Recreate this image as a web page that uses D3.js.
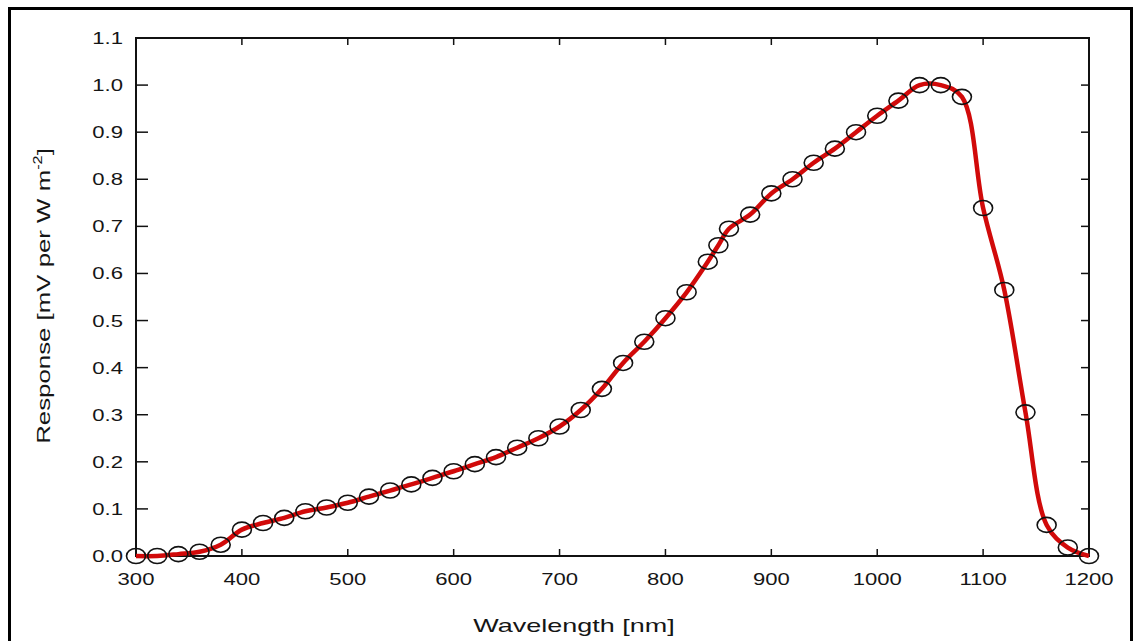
<!DOCTYPE html>
<html>
<head>
    <meta charset="utf-8">
    <title>Spectral Response</title>
    <script src="https://cdn.jsdelivr.net/npm/d3@7"></script>
    <style>
        body {
            margin: 0;
            background: #fff;
        }

        text {
            font-family: "Liberation Sans", Arial, sans-serif;
            fill: #151515;
        }

        .frame {
            fill: none;
            stroke: #000;
            stroke-width: 3px;
        }

        .box {
            fill: none;
            stroke: #111;
            stroke-width: 2px;
        }

        .tick {
            stroke: #111;
            stroke-width: 1.5px;
        }

        .curve {
            fill: none;
            stroke: #d10a0a;
            stroke-width: 4.5px;
        }

        .marker {
            fill: none;
            stroke: #111;
            stroke-width: 1.6px;
        }
    </style>
</head>

<body>

<script type="text/javascript">
    // values
    var wavelength = [300, 320, 340, 360, 380, 400, 420, 440, 460, 480, 500, 520, 540, 560, 580,
        600, 620, 640, 660, 680, 700, 720, 740, 760, 780, 800, 820, 840, 850, 860, 880,
        900, 920, 940, 960, 980, 1000, 1020, 1040, 1060, 1080, 1100, 1120, 1140, 1160, 1180, 1200];
    var response = [0.0, 0.0, 0.004, 0.009, 0.024, 0.056, 0.07, 0.081, 0.095, 0.103, 0.113, 0.126, 0.139, 0.152, 0.166,
        0.18, 0.195, 0.21, 0.23, 0.25, 0.275, 0.31, 0.355, 0.41, 0.455, 0.505, 0.56, 0.625, 0.66, 0.695, 0.725,
        0.77, 0.80, 0.835, 0.865, 0.90, 0.935, 0.967, 1.0, 1.0, 0.975, 0.739, 0.565, 0.305, 0.066, 0.018, 0.0];
    var xTicks = [300, 400, 500, 600, 700, 800, 900, 1000, 1100, 1200];
    var yTicks = [0.0, 0.1, 0.2, 0.3, 0.4, 0.5, 0.6, 0.7, 0.8, 0.9, 1.0, 1.1];

    var width = 1135,
        height = 641,
        plotLeft = 136, plotRight = 1089, plotTop = 38, plotBottom = 556,
        stretch = 1.38; // glyphs in the picture are wide

    var x = d3.scaleLinear().domain([300, 1200]).range([plotLeft, plotRight]);
    var y = d3.scaleLinear().domain([0, 1.1]).range([plotBottom, plotTop]);

    var svg = d3.select("body").append("svg")
        .attr("width", width)
        .attr("height", height);

    svg.append("rect")
        .attr("class", "frame")
        .attr("x", 9.5).attr("y", 8.5)
        .attr("width", 1122).attr("height", 650);

    // ticks, inward on all four sides
    svg.selectAll(".xb").data(xTicks).enter().append("line")
        .attr("class", "tick")
        .attr("x1", x).attr("x2", x)
        .attr("y1", plotBottom).attr("y2", plotBottom - 7);
    svg.selectAll(".xt").data(xTicks).enter().append("line")
        .attr("class", "tick")
        .attr("x1", x).attr("x2", x)
        .attr("y1", plotTop).attr("y2", plotTop + 7);
    svg.selectAll(".yl").data(yTicks).enter().append("line")
        .attr("class", "tick")
        .attr("x1", plotLeft).attr("x2", plotLeft + 12)
        .attr("y1", y).attr("y2", y);
    svg.selectAll(".yr").data(yTicks).enter().append("line")
        .attr("class", "tick")
        .attr("x1", plotRight).attr("x2", plotRight - 8)
        .attr("y1", y).attr("y2", y);

    svg.append("rect")
        .attr("class", "box")
        .attr("x", plotLeft).attr("y", plotTop)
        .attr("width", plotRight - plotLeft).attr("height", plotBottom - plotTop);

    // tick labels
    svg.selectAll(".xlab").data(xTicks).enter().append("text")
        .attr("transform", function (d) { return "translate(" + x(d) + ",585) scale(" + stretch + ",1)"; })
        .attr("text-anchor", "middle")
        .style("font-size", "16px")
        .text(function (d) { return d; });

    svg.selectAll(".ylab").data(yTicks).enter().append("text")
        .attr("transform", function (d) { return "translate(123," + (y(d) + 6) + ") scale(" + stretch + ",1)"; })
        .attr("text-anchor", "end")
        .style("font-size", "16px")
        .text(d3.format(".1f"));

    // axis titles
    svg.append("text")
        .attr("transform", "translate(574,632) scale(1.42,1)")
        .attr("text-anchor", "middle")
        .style("font-size", "19px")
        .text("Wavelength [nm]");

    var yt = svg.append("text")
        .attr("transform", "translate(50,296) rotate(-90) scale(1.36,1)")
        .attr("text-anchor", "middle")
        .style("font-size", "19px");
    yt.append("tspan").text("Response [mV per W m");
    yt.append("tspan").attr("dy", -8).style("font-size", "12px").text("-2");
    yt.append("tspan").attr("dy", 8).text("]");

    // data
    var line = d3.line()
        .x(function (d, i) { return x(wavelength[i]); })
        .y(function (d) { return y(d); })
        .curve(d3.curveCatmullRom.alpha(0.5));

    svg.append("path")
        .datum(response)
        .attr("class", "curve")
        .attr("d", line);

    svg.selectAll(".marker").data(response).enter().append("ellipse")
        .attr("class", "marker")
        .attr("cx", function (d, i) { return x(wavelength[i]); })
        .attr("cy", function (d) { return y(d); })
        .attr("rx", 9.5)
        .attr("ry", 7.5);
</script>

</body>
</html>
